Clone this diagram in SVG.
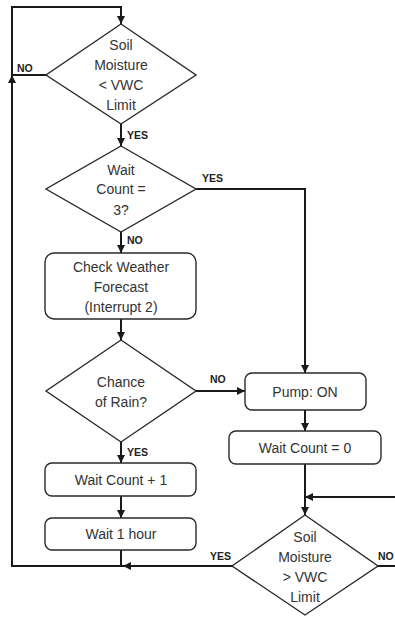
<svg xmlns="http://www.w3.org/2000/svg" width="395" height="617" viewBox="0 0 395 617">
<defs>
<marker id="ah" viewBox="0 0 10 10" refX="10" refY="5" markerWidth="4" markerHeight="4" orient="auto" markerUnits="strokeWidth">
<path d="M0,0 L10,5 L0,10 z" fill="#1a1a1a"/>
</marker>
<style>
.shape{fill:#fff;stroke:#2a2a2a;stroke-width:1.4}
.t{font-family:"Liberation Sans",Arial,sans-serif;font-size:14px;fill:#333;text-anchor:middle}
.lbl{font-family:"Liberation Sans",Arial,sans-serif;font-size:10.5px;font-weight:bold;fill:#222}
.c{fill:none;stroke:#1a1a1a;stroke-width:2}
.ca{fill:none;stroke:#1a1a1a;stroke-width:2;marker-end:url(#ah)}
</style>
</defs>
<rect width="395" height="617" fill="#fff"/>
<g id="connectors">
<path class="ca" d="M232,566 H123"/>
<path class="c" d="M121,550 V566"/>
<path class="ca" d="M123,566 H12 V75"/>
<path class="ca" d="M12,75 V7 H121 V24"/>
<path class="c" d="M46,75 H12"/>
<path class="ca" d="M121,124 V146"/>
<path class="ca" d="M196,189 H305 V373"/>
<path class="ca" d="M121,232 V253"/>
<path class="ca" d="M121,319 V340"/>
<path class="ca" d="M196,391 H245"/>
<path class="ca" d="M121,442 V463"/>
<path class="ca" d="M121,496 V518"/>
<path class="ca" d="M305,410 V431"/>
<path class="ca" d="M305,464 V515"/>
<path class="ca" d="M395,497 H305"/>
<path class="c" d="M378,566 H395"/>
</g>
<g id="labels">
<text class="lbl" x="17" y="72">NO</text>
<text class="lbl" x="127" y="139">YES</text>
<text class="lbl" x="202" y="182">YES</text>
<text class="lbl" x="127" y="244">NO</text>
<text class="lbl" x="210" y="383">NO</text>
<text class="lbl" x="127" y="456">YES</text>
<text class="lbl" x="210" y="560">YES</text>
<text class="lbl" x="378" y="560">NO</text>
</g>
<g id="d1">
<polygon class="shape" points="121,24 196,75 121,124 46,75"/>
<text class="t" x="121" y="50">Soil</text>
<text class="t" x="121" y="70">Moisture</text>
<text class="t" x="121" y="90">&lt; VWC</text>
<text class="t" x="121" y="110">Limit</text>
</g>
<g id="d2">
<polygon class="shape" points="121,146 196,189 121,232 46,189"/>
<text class="t" x="121" y="175">Wait</text>
<text class="t" x="121" y="194">Count =</text>
<text class="t" x="121" y="215">3?</text>
</g>
<g id="weather">
<rect class="shape" x="45" y="253" width="151" height="66" rx="9"/>
<text class="t" x="121" y="272">Check Weather</text>
<text class="t" x="121" y="292">Forecast</text>
<text class="t" x="121" y="312">(Interrupt 2)</text>
</g>
<g id="d3">
<polygon class="shape" points="121,340 196,391 121,442 46,391"/>
<text class="t" x="121" y="387">Chance</text>
<text class="t" x="121" y="407">of Rain?</text>
</g>
<g id="pump">
<rect class="shape" x="245" y="373" width="121" height="37" rx="7"/>
<text class="t" x="305" y="397">Pump: ON</text>
</g>
<g id="wc0">
<rect class="shape" x="229" y="431" width="152" height="33" rx="7"/>
<text class="t" x="305" y="453">Wait Count = 0</text>
</g>
<g id="wc1">
<rect class="shape" x="45" y="463" width="151" height="33" rx="7"/>
<text class="t" x="121" y="485">Wait Count + 1</text>
</g>
<g id="wait">
<rect class="shape" x="45" y="518" width="151" height="32" rx="7"/>
<text class="t" x="121" y="539">Wait 1 hour</text>
</g>
<g id="d4">
<polygon class="shape" points="305,515 378,566 305,615 232,566"/>
<text class="t" x="305" y="542">Soil</text>
<text class="t" x="305" y="562">Moisture</text>
<text class="t" x="305" y="582">&gt; VWC</text>
<text class="t" x="305" y="602">Limit</text>
</g>
</svg>
